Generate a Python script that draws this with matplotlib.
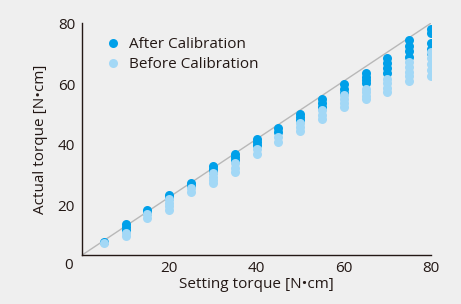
import matplotlib.pyplot as plt

plt.rcParams['font.family'] = ['Open Sans', 'DejaVu Sans']

# 设定扭矩（横轴）和实际扭矩（纵轴），每个设定值有多次测量
after_x = [5,
           10, 10, 10,
           15, 15,
           20, 20,
           25, 25,
           30, 30, 30,
           35, 35, 35,
           40, 40, 40,
           45, 45,
           50, 50, 50,
           55, 55, 55,
           60, 60, 60,
           65, 65, 65, 65,
           70, 70, 70, 70,
           75, 75, 75, 75,
           80, 80, 80, 80, 80]
after_y = [8.0,
           13.8, 12.8, 12.0,
           18.5, 17.6,
           23.4, 22.6,
           27.3, 26.5,
           33.0, 32.0, 31.1,
           36.9, 36.0, 35.0,
           41.8, 40.8, 39.9,
           45.6, 44.3,
           50.3, 49.2, 48.2,
           55.0, 53.8, 52.6,
           60.0, 58.5, 57.0,
           63.8, 62.5, 61.3, 60.3,
           68.7, 67.0, 65.3, 63.6,
           74.5, 72.7, 70.9, 69.1,
           78.1, 77.0, 73.5, 71.8, 70.2]

before_x = [5,
            10, 10,
            15, 15,
            20, 20, 20, 20,
            25, 25,
            30, 30, 30, 30,
            35, 35, 35,
            40, 40,
            45, 45,
            50, 50, 50,
            55, 55, 55,
            60, 60, 60, 60,
            65, 65, 65, 65,
            70, 70, 70, 70,
            75, 75, 75, 75, 75,
            80, 80, 80, 80, 80]
before_y = [7.6,
            11.0, 10.0,
            17.0, 15.7,
            22.0, 20.8, 19.7, 18.6,
            25.8, 24.5,
            30.6, 29.5, 28.4, 27.4,
            33.9, 32.5, 31.1,
            38.5, 36.9,
            42.7, 40.8,
            47.1, 45.9, 44.7,
            51.5, 50.0, 48.5,
            56.4, 55.0, 53.7, 52.4,
            58.6, 57.4, 56.2, 55.1,
            61.9, 60.4, 58.8, 57.3,
            67.4, 65.8, 64.2, 62.6, 61.0,
            70.7, 68.7, 66.7, 64.7, 62.8]

ticks = [0, 20, 40, 60, 80]

bg = '#efefef'
ink = '#231815'
fs = 11

fig = plt.figure(figsize=(4.61, 3.04), dpi=100, facecolor=bg)
ax = fig.add_axes([0.178, 0.161, 0.757, 0.763], facecolor=bg)

# 理想线（对角线）
ax.plot([0, 1], [0, 1], transform=ax.transAxes, color='#b8b8b8', lw=1.0, zorder=1)

ax.plot(after_x, after_y, 'o', ms=6.5, color='#00a0e9', mec='none',
        label='After Calibration', zorder=2)
ax.plot(before_x, before_y, 'o', ms=6.5, color='#a3d8f6', mec='none',
        label='Before Calibration', zorder=3)

ax.set_xlim(0, 80)
ax.set_ylim(3.6, 80.2)
ax.set_xticks(ticks[1:])
ax.set_yticks(ticks[1:])
ax.tick_params(length=0, labelsize=fs, colors=ink)
ax.tick_params(axis='y', pad=5)
ax.tick_params(axis='x', pad=4)
# 原点的 "0"
ax.text(-0.025, 0, '0', transform=ax.get_yaxis_transform(), ha='right',
        va='center', fontsize=fs, color=ink, clip_on=False)

for s in ['top', 'right']:
    ax.spines[s].set_visible(False)
for s in ['left', 'bottom']:
    ax.spines[s].set_color(ink)
    ax.spines[s].set_linewidth(1.0)

ax.set_xlabel('Setting torque [N•cm]', fontsize=fs, color=ink, labelpad=1)
ax.set_ylabel('Actual torque [N•cm]', fontsize=fs, color=ink, labelpad=7)

ax.legend(loc='upper left', frameon=False, fontsize=fs, handletextpad=0.0,
          borderaxespad=0.2, bbox_to_anchor=(0.02, 0.98), labelspacing=0.35,
          labelcolor=ink)

fig.savefig('out.png', dpi=100, facecolor=bg)
